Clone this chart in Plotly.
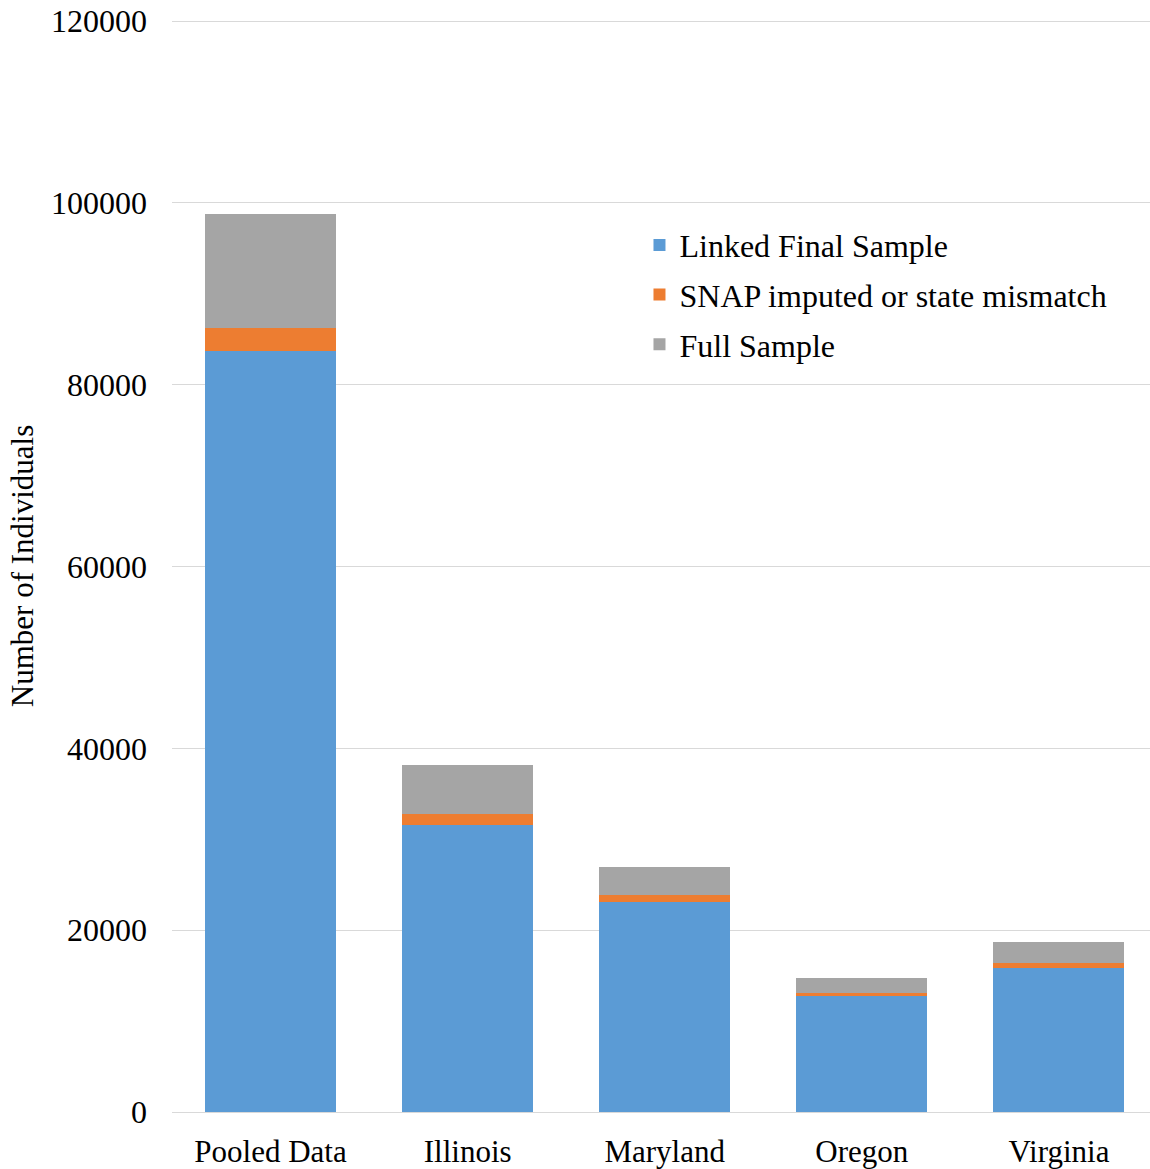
import plotly.graph_objects as go

categories = ["Pooled Data", "Illinois", "Maryland", "Oregon", "Virginia"]
linked_final = [83690, 31610, 23140, 12800, 15840]
snap_mismatch = [2590, 1170, 730, 260, 550]
full_sample = [12480, 5390, 3050, 1650, 2310]
y_ticks = [0, 20000, 40000, 60000, 80000, 100000, 120000]

font_family = "Liberation Serif, Times New Roman, serif"

fig = go.Figure()
fig.add_trace(go.Bar(x=categories, y=linked_final, name="Linked Final Sample",
                     legendgroup="a",
                     marker=dict(color="#5B9BD5", line=dict(width=0))))
fig.add_trace(go.Bar(x=categories, y=snap_mismatch, name="SNAP imputed or state mismatch",
                     legendgroup="b",
                     marker=dict(color="#ED7D31", line=dict(width=0))))
fig.add_trace(go.Bar(x=categories, y=full_sample, name="Full Sample",
                     legendgroup="c",
                     marker=dict(color="#A5A5A5", line=dict(width=0))))

fig.update_layout(
    barmode="stack",
    bargap=0.335,
    width=1150, height=1169,
    margin=dict(l=172, r=0, t=20, b=57),
    paper_bgcolor="white", plot_bgcolor="white",
    font=dict(family=font_family, size=32, color="black"),
    showlegend=True,
    legend=dict(x=0.478, y=0.819, xanchor="left", yanchor="top",
                traceorder="grouped", font=dict(size=32, family=font_family),
                bgcolor="rgba(0,0,0,0)", itemwidth=30, tracegroupgap=5),
    xaxis=dict(range=[-0.5, 4.462], showgrid=False, showline=False,
               ticks="", tickfont=dict(size=31), ticklabelstandoff=18),
    yaxis=dict(range=[0, 120120], tickvals=y_ticks, tickformat="d",
               showgrid=True, gridcolor="#D9D9D9", gridwidth=1.3,
               zeroline=True, zerolinecolor="#D9D9D9", zerolinewidth=1.3,
               showline=False, ticks="", ticklabelstandoff=24,
               tickfont=dict(size=32),
               title=dict(text="Number of Individuals", font=dict(size=31), standoff=8)),
)

fig.write_html("out.html")
